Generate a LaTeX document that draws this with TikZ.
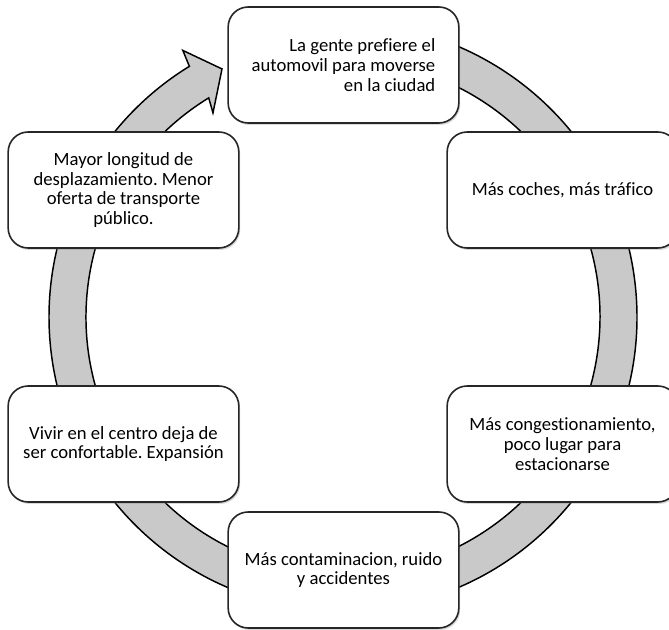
\documentclass[tikz,border=0pt]{standalone}
\usepackage{fontspec}
\setmainfont{Carlito}[Ligatures=NoCommon]
\usetikzlibrary{shadows}
\frenchspacing

\begin{document}
\begin{tikzpicture}[x=0.75pt, y=0.75pt, thick,
		main node/.style={rectangle, rounded corners=15pt, draw=black!85, line width=1.2pt, fill=white,
			minimum width=173pt, minimum height=87pt, inner sep=2pt, align=center,
			font=\fontsize{14}{14.8}\selectfont,
			drop shadow={shadow xshift=1pt, shadow yshift=-1.5pt, opacity=0.3}},
		cycle arrow/.style={fill=black!21, draw=black, line width=1.1pt, line join=miter}]
		
		\useasboundingbox (-343,-313) rectangle (326,317);
		
		\draw[cycle arrow] (95:294) arc[start angle=95, end angle=-238.5, radius=294]
		-- (121:311) -- (116:276) -- (122.5:242) -- (121.5:257)
		arc[start angle=-238.5, end angle=95, radius=257] -- cycle;
		
		\node[main node, align=right] (1) at (0.5,252) {La gente prefiere el\\automovil para moverse\\en la ciudad};
		\node[main node] (2) at (219.5,127) {Más coches, más tráfico};
		\node[main node] (3) at (219.5,-127) {Más congestionamiento,\\poco lugar para\\estacionarse};
		\node[main node] (4) at (0.5,-253) {Más contaminacion, ruido\\y accidentes};
		\node[main node] (5) at (-219.5,-127) {Vivir en el centro deja de\\ser confortable. Expansión};
		\node[main node] (6) at (-219.5,127) {Mayor longitud de\\desplazamiento. Menor\\oferta de transporte\\público.};
		
	\end{tikzpicture}
\end{document}
